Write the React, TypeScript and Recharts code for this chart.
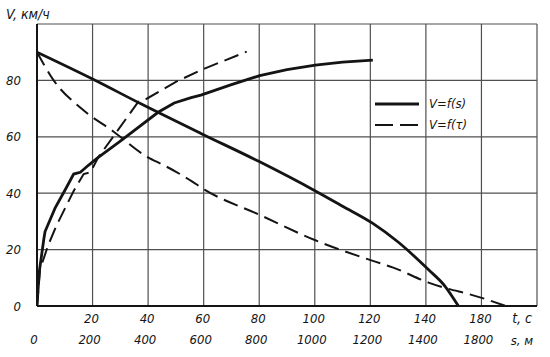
import { LineChart, Line, XAxis, YAxis, CartesianGrid } from "recharts"

// time axis (t, c) ticks and the labels as printed on the sheet
const tTicks = [0, 20, 40, 60, 80, 100, 120, 140, 160, 180]
const tLabels = ["", "20", "40", "60", "80", "100", "120", "140", "180", ""]
// distance axis (s, м)
const sTicks = [0, 200, 400, 600, 800, 1000, 1200, 1400, 1600, 1800]
const sLabels = ["0", "200", "400", "600", "800", "1000", "1200", "1400", "1800", ""]
const vTicks = [0, 20, 40, 60, 80, 100]
const vLabels = ["0", "20", "40", "60", "80", ""]

// V = f(s), acceleration
const accelS = [
  { x: 0, v: 0 }, { x: 8, v: 12 }, { x: 25, v: 24 }, { x: 29, v: 26.4 },
  { x: 65, v: 34.7 }, { x: 102, v: 41.3 }, { x: 132, v: 46.8 }, { x: 156, v: 47.4 },
  { x: 185, v: 49.9 }, { x: 217, v: 52.4 }, { x: 300, v: 58.5 }, { x: 436, v: 68.7 },
  { x: 494, v: 72 }, { x: 555, v: 73.9 }, { x: 590, v: 74.8 }, { x: 700, v: 78.5 },
  { x: 802, v: 81.7 }, { x: 900, v: 83.8 }, { x: 1002, v: 85.4 }, { x: 1100, v: 86.5 },
  { x: 1209, v: 87.2 },
]
// V = f(s), braking
const brakeS = [
  { x: 0, v: 90 }, { x: 200, v: 80.5 }, { x: 374, v: 71.7 }, { x: 590, v: 61.2 },
  { x: 800, v: 51.2 }, { x: 1002, v: 40.8 }, { x: 1100, v: 35.4 }, { x: 1209, v: 29.3 },
  { x: 1300, v: 22.7 }, { x: 1408, v: 13 }, { x: 1469, v: 7 }, { x: 1517, v: 0 },
]
// V = f(t), acceleration
const accelT = [
  { x: 0, v: 0 }, { x: 1.1, v: 13 }, { x: 4, v: 21.5 }, { x: 7.1, v: 28.7 },
  { x: 13.2, v: 40.8 }, { x: 16.8, v: 46.8 }, { x: 19.2, v: 47.4 }, { x: 22.1, v: 52.8 },
  { x: 28.3, v: 61.2 }, { x: 36.5, v: 72.5 }, { x: 39.5, v: 73.5 }, { x: 50, v: 79.5 },
  { x: 60.3, v: 84.2 }, { x: 75.5, v: 90.2 },
]
// V = f(t), braking
const brakeT = [
  { x: 0, v: 90 }, { x: 6, v: 80 }, { x: 16, v: 70 }, { x: 27.6, v: 61.8 },
  { x: 39.8, v: 52.8 }, { x: 45.7, v: 49.9 }, { x: 55.5, v: 44.4 }, { x: 60.3, v: 41.3 },
  { x: 80.2, v: 32.3 }, { x: 100.2, v: 23.3 }, { x: 120.9, v: 16 }, { x: 128, v: 13.7 },
  { x: 141.2, v: 8.2 }, { x: 160.4, v: 2.8 }, { x: 168.7, v: 0 },
]

const font = "'Liberation Sans Narrow', 'DejaVu Sans Condensed', sans-serif"
const ink = "#141414"

const TTick = (p: any) => {
  const i = tTicks.indexOf(p.payload.value)
  return (
    <text x={p.x - 1} y={p.y + 12} textAnchor="middle" dominantBaseline="central"
      fontFamily={font} fontStyle="italic" fontSize={13} fill={ink}>{tLabels[i]}</text>
  )
}

const STick = (p: any) => {
  const i = sTicks.indexOf(p.payload.value)
  return (
    <text x={p.x - 3} y={p.y + 11} textAnchor="middle" dominantBaseline="central"
      fontFamily={font} fontStyle="italic" fontSize={13} fill={ink}>{sLabels[i]}</text>
  )
}

const VTick = (p: any) => {
  const i = vTicks.indexOf(p.payload.value)
  return (
    <text x={p.x} y={p.y} textAnchor="end" dominantBaseline="central"
      fontFamily={font} fontStyle="italic" fontSize={13} fill={ink}>{vLabels[i]}</text>
  )
}

const LegendBox = () => (
  <div style={{ position: "absolute", left: 375, top: 93, width: 120, fontFamily: font, fontStyle: "italic", fontSize: 13, color: ink, lineHeight: "21px" }}>
    <div style={{ display: "flex", alignItems: "center" }}>
      <svg width={46} height={10}><line x1={0} y1={5} x2={44} y2={5} stroke={ink} strokeWidth={2.8} /></svg>
      <span style={{ marginLeft: 8 }}>V=f(s)</span>
    </div>
    <div style={{ display: "flex", alignItems: "center" }}>
      <svg width={46} height={10}><line x1={0} y1={5} x2={44} y2={5} stroke={ink} strokeWidth={2} strokeDasharray="18 7" /></svg>
      <span style={{ marginLeft: 8 }}>V=f(τ)</span>
    </div>
  </div>
)

export default function App() {
  return (
    <div style={{ position: "absolute", left: 0, top: 0, background: "#fff" }}>
      <LineChart width={550} height={357} margin={{ top: 24, right: 13, bottom: 5, left: 0 }}>
        <CartesianGrid xAxisId="a" stroke="#505050" strokeWidth={1.2} />
        <XAxis xAxisId="a" dataKey="x" type="number" domain={[0, 180]} ticks={tTicks}
          height={22} tickSize={0} tickMargin={0} tick={TTick} axisLine={{ stroke: ink, strokeWidth: 2 }}
          allowDataOverflow interval={0}
          label={{ value: "t, c", position: "insideRight", offset: 5, fontFamily: font, fontStyle: "italic", fontSize: 14, fill: ink, dy: 1 }} />
        <XAxis xAxisId="b" dataKey="x" type="number" domain={[0, 1800]} ticks={sTicks}
          height={24} tickSize={0} tickMargin={0} tick={STick} axisLine={false}
          allowDataOverflow interval={0}
          label={{ value: "s, м", position: "insideRight", offset: 4, fontFamily: font, fontStyle: "italic", fontSize: 13, fill: ink, dy: 0 }} />
        <YAxis dataKey="v" type="number" domain={[0, 100]} ticks={vTicks} width={37}
          tickSize={0} tickMargin={16} tick={VTick} axisLine={{ stroke: ink, strokeWidth: 2 }} interval={0}
          label={{
            content: () => (
              <text x={6} y={14} dominantBaseline="central" fontFamily={font} fontStyle="italic" fontSize={14} fill={ink}>V, км/ч</text>
            ),
          }} />
        <Line xAxisId="b" type="linear" data={accelS} dataKey="v" name="V=f(s)" stroke={ink} strokeWidth={2.8}
          dot={false} activeDot={false} isAnimationActive={false} />
        <Line xAxisId="b" type="monotone" data={brakeS} dataKey="v" name="V=f(s) braking" stroke={ink} strokeWidth={2.8}
          dot={false} activeDot={false} isAnimationActive={false} />
        <Line xAxisId="a" type="linear" data={accelT} dataKey="v" name="V=f(τ)" stroke={ink} strokeWidth={2}
          strokeDasharray="15 7" dot={false} activeDot={false} isAnimationActive={false} />
        <Line xAxisId="a" type="monotone" data={brakeT} dataKey="v" name="V=f(τ) braking" stroke={ink} strokeWidth={2}
          strokeDasharray="15 7" dot={false} activeDot={false} isAnimationActive={false} />
      </LineChart>
      <LegendBox />
    </div>
  )
}
